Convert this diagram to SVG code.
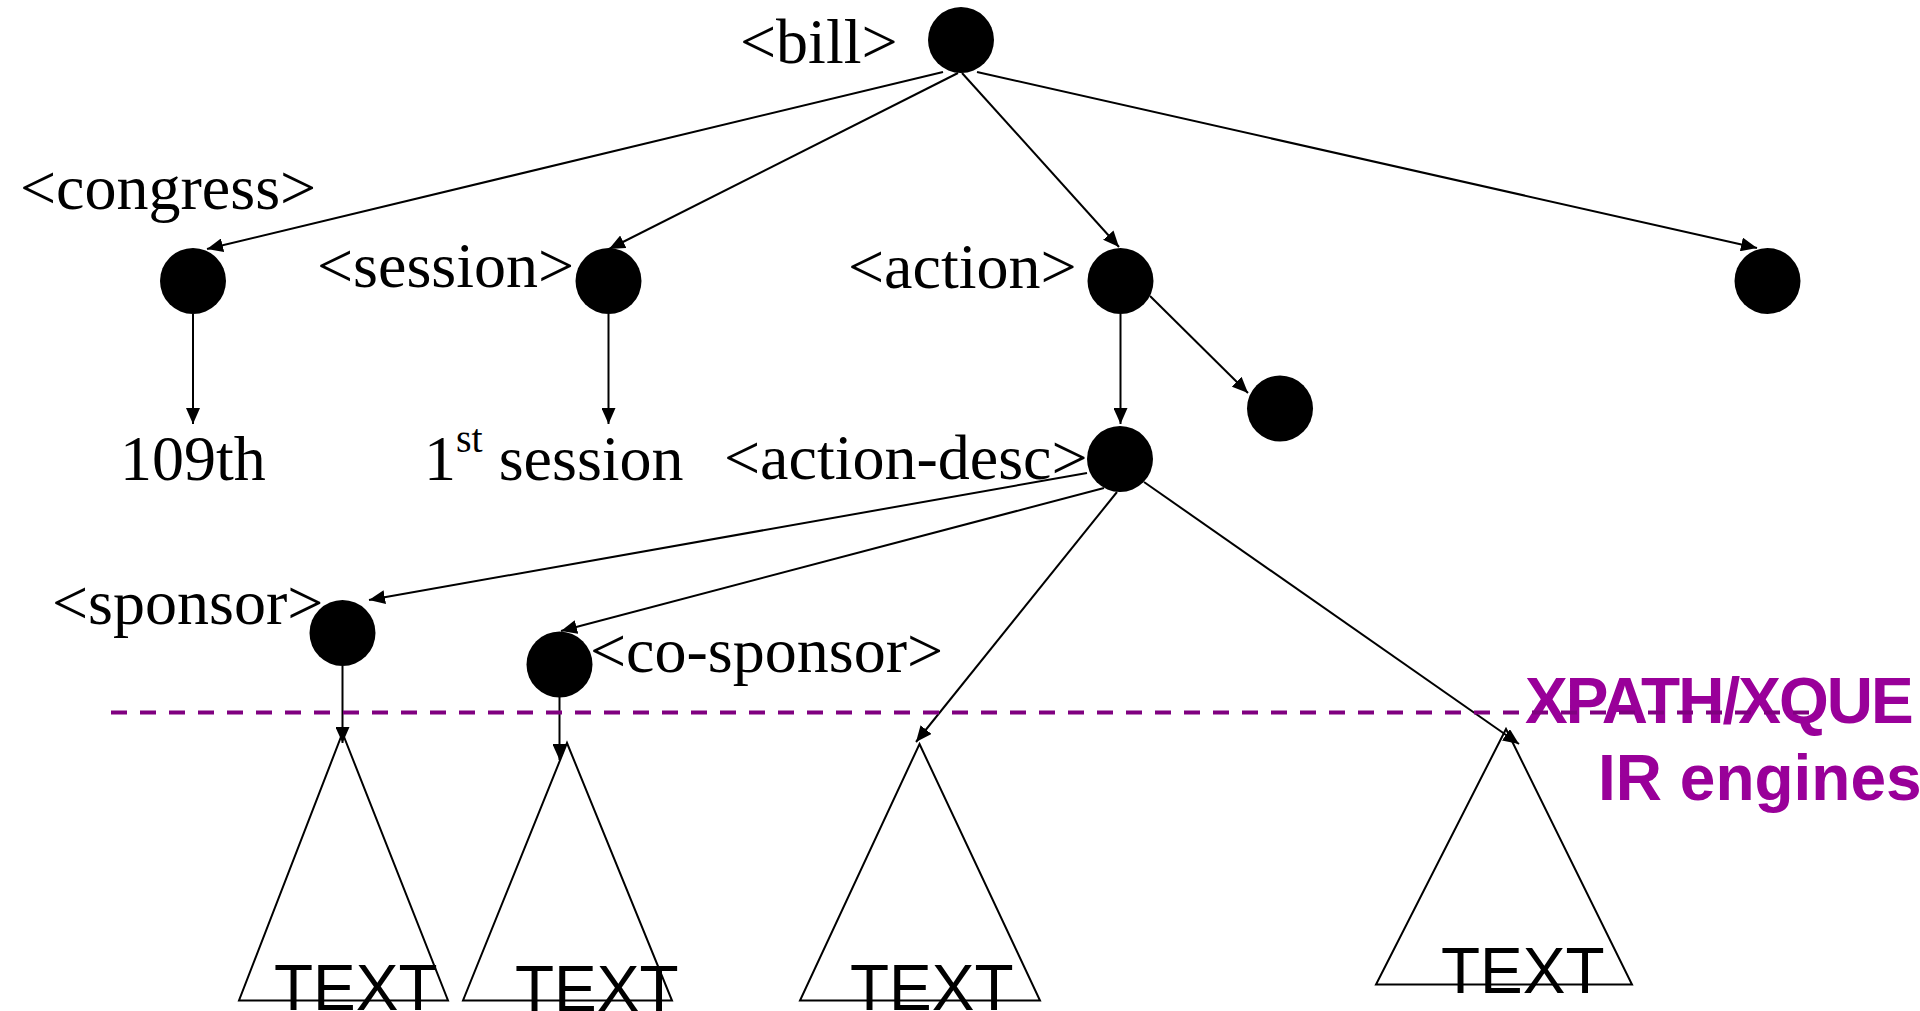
<svg xmlns="http://www.w3.org/2000/svg" width="1920" height="1011" viewBox="0 0 1920 1011">
  <style>
    .node { fill: #000; }
    .lbl { font-family: "Liberation Serif", "Times New Roman", serif; font-size: 64px; fill: #000; }
    .edge { stroke: #000; stroke-width: 2; fill: none; marker-end: url(#arrow); }
    .sub { stroke: #000; stroke-width: 2; fill: none; }
    .txt { font-family: "Liberation Sans", Arial, sans-serif; font-size: 64px; fill: #000; }
    .engine { font-family: "Liberation Sans", Arial, sans-serif; font-size: 64px; font-weight: bold; fill: #990099; }
    .cut { stroke: #800080; stroke-width: 4; stroke-dasharray: 16 13; fill: none; }
  </style>
  <defs>
    <marker id="arrow" markerUnits="userSpaceOnUse" markerWidth="16" markerHeight="14" refX="16" refY="7" orient="auto">
      <path d="M0,0 L16,7 L0,14 Z" fill="#000"/>
    </marker>
  </defs>

  <!-- tree edges -->
  <g id="connectors">
    <line class="edge" x1="943" y1="72" x2="207" y2="249"/>
    <line class="edge" x1="958" y1="73" x2="609" y2="249"/>
    <line class="edge" x1="962" y1="73" x2="1119" y2="247"/>
    <line class="edge" x1="977" y1="72" x2="1757" y2="248"/>
    <line class="edge" x1="193" y1="314" x2="193" y2="424"/>
    <line class="edge" x1="608.5" y1="314" x2="608.5" y2="424"/>
    <line class="edge" x1="1120.5" y1="314" x2="1120.5" y2="424"/>
    <line class="edge" x1="1150" y1="296" x2="1248" y2="393"/>
    <line class="edge" x1="1087" y1="473" x2="369" y2="600"/>
    <line class="edge" x1="1104" y1="488" x2="561" y2="631"/>
    <line class="edge" x1="1117" y1="492" x2="916" y2="742"/>
    <line class="edge" x1="1144" y1="482" x2="1519" y2="744"/>
    <line class="edge" x1="342.5" y1="666" x2="342.5" y2="743"/>
    <line class="edge" x1="559.5" y1="697" x2="559.5" y2="760"/>
  </g>

  <!-- element nodes -->
  <g id="bill">
    <circle class="node" cx="961" cy="40" r="33"/>
    <text class="lbl" x="740" y="63">&lt;bill&gt;</text>
  </g>
  <g id="congress">
    <circle class="node" cx="193" cy="281" r="33"/>
    <text class="lbl" x="20" y="209">&lt;congress&gt;</text>
  </g>
  <g id="session">
    <circle class="node" cx="608.5" cy="281" r="33"/>
    <text class="lbl" x="317" y="287">&lt;session&gt;</text>
  </g>
  <g id="action">
    <circle class="node" cx="1120.5" cy="281" r="33"/>
    <text class="lbl" x="848" y="288">&lt;action&gt;</text>
  </g>
  <g id="other-child">
    <circle class="node" cx="1767.5" cy="281" r="33"/>
  </g>
  <g id="action-child">
    <circle class="node" cx="1280" cy="408.5" r="33"/>
  </g>
  <g id="action-desc">
    <circle class="node" cx="1120" cy="459" r="33"/>
    <text class="lbl" x="724" y="479">&lt;action-desc&gt;</text>
  </g>
  <g id="sponsor">
    <circle class="node" cx="342.5" cy="633" r="33"/>
    <text class="lbl" x="52" y="624">&lt;sponsor&gt;</text>
  </g>
  <g id="co-sponsor">
    <circle class="node" cx="559.5" cy="664.5" r="33"/>
    <text class="lbl" x="590" y="672">&lt;co-sponsor&gt;</text>
  </g>

  <!-- text values -->
  <g id="congress-value">
    <text class="lbl" x="120" y="480">109th</text>
  </g>
  <g id="session-value">
    <text class="lbl" x="424" y="480">1<tspan font-size="40" dy="-28">st</tspan><tspan dy="28"> session</tspan></text>
  </g>

  <!-- text subtrees -->
  <g id="subtree-sponsor">
    <polygon class="sub" points="342.5,733 448,1000.5 239,1000.5"/>
    <text class="txt" x="274" y="1010">TEXT</text>
  </g>
  <g id="subtree-co-sponsor">
    <polygon class="sub" points="567,743 672,1000.5 463,1000.5"/>
    <text class="txt" x="515" y="1011">TEXT</text>
  </g>
  <g id="subtree-desc-1">
    <polygon class="sub" points="919.5,744 1040,1000.5 800,1000.5"/>
    <text class="txt" x="850" y="1010">TEXT</text>
  </g>
  <g id="subtree-desc-2">
    <polygon class="sub" points="1506,729 1632,984.5 1376,984.5"/>
    <text class="txt" x="1441" y="993">TEXT</text>
  </g>

  <!-- query engine boundary -->
  <g id="engine-label">
    <text class="engine" x="1525" y="723" letter-spacing="-2">XPATH/XQUE</text>
    <text class="engine" x="1598" y="800">IR engines</text>
  </g>
  <line class="cut" x1="111" y1="712.5" x2="1812" y2="712.5"/>
</svg>
